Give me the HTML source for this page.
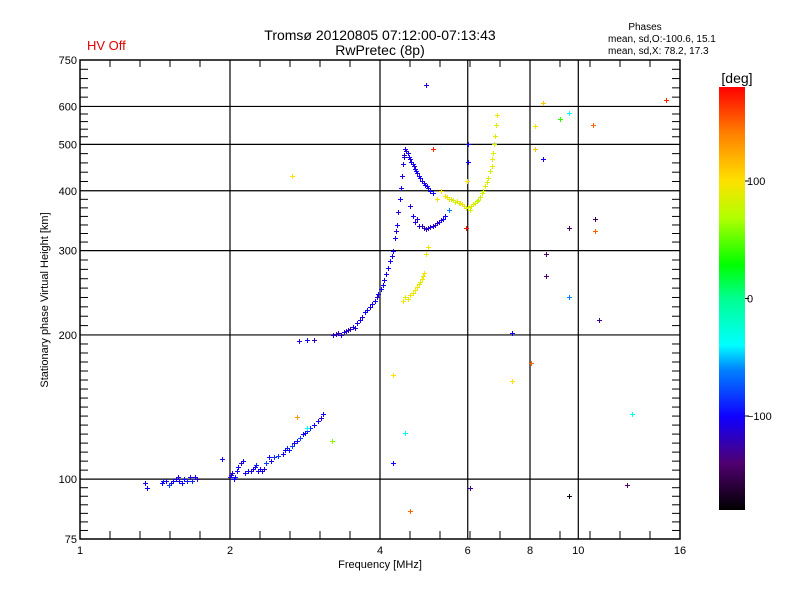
<!DOCTYPE html>
<html><head><meta charset="utf-8"><style>
body{margin:0;background:#fff}
svg{display:block}
text{font-family:"Liberation Sans",sans-serif;fill:#000}
</style></head><body>
<svg id="chart" width="800" height="600" viewBox="0 0 800 600" xmlns="http://www.w3.org/2000/svg">
<defs><linearGradient id="cbg" x1="0" y1="1" x2="0" y2="0">
<stop offset="0" stop-color="#000000"/><stop offset="0.11" stop-color="#500070"/><stop offset="0.22" stop-color="#1000ff"/><stop offset="0.33" stop-color="#0080ff"/><stop offset="0.39" stop-color="#00ffff"/><stop offset="0.5" stop-color="#00ff90"/><stop offset="0.58" stop-color="#00ff00"/><stop offset="0.69" stop-color="#b0ff00"/><stop offset="0.78" stop-color="#ffe000"/><stop offset="0.89" stop-color="#ff8000"/><stop offset="1" stop-color="#ff0000"/></linearGradient></defs>
<text x="87" y="50" font-size="13" style="fill:#e00000">HV Off</text>
<text x="380" y="40" font-size="14" text-anchor="middle">Tromsø 20120805 07:12:00-07:13:43</text>
<text x="380" y="55" font-size="14" text-anchor="middle">RwPretec (8p)</text>
<text x="645" y="30" font-size="10" text-anchor="middle">Phases</text>
<text x="608" y="42" font-size="10">mean, sd,O:-100.6, 15.1</text>
<text x="608" y="54" font-size="10">mean, sd,X:  78.2, 17.3</text>
<text transform="translate(48,300) rotate(-90)" font-size="11" text-anchor="middle">Stationary phase Virtual Height [km]</text>
<text x="380" y="568" font-size="11" text-anchor="middle">Frequency [MHz]</text>
<text x="737" y="83" font-size="14" text-anchor="middle">[deg]</text>
<rect x="719" y="87" width="26" height="423" fill="url(#cbg)"/>
<g id="grid"></g><g id="marks" shape-rendering="crispEdges"></g><g id="axes"></g><g id="cbticks"></g>
</svg>
<script>
const freqs=[1.35,1.36,1.46,1.47,1.52,1.54,1.56,1.58,1.62,1.66,1.68,1.72,1.93,2.0,2.02,2.05,2.08,2.1,2.14,2.2,2.24,2.28,2.32,2.36,2.4,2.45,2.55,2.6,2.66,2.72,2.8,2.86,2.95,3.05,3.08,
1.49,1.51,1.57,1.6,1.64,1.7,2.01,2.04,2.07,2.12,2.17,2.22,2.26,2.3,2.34,2.42,2.5,2.58,2.63,2.69,2.76,2.83,2.9,3.0,
2.75,2.85,2.95,
3.22,3.3,3.38,3.45,3.53,3.6,3.68,3.73,3.82,3.9,3.97,4.05,4.12,4.19,4.24,4.28,4.32,4.35,4.38,4.4,4.42,4.45,4.47,4.5,4.55,4.6,4.65,4.7,4.75,4.82,4.9,4.97,5.05,5.12,
3.26,3.34,3.42,3.49,3.56,3.64,3.77,3.86,3.94,4.01,4.08,4.15,4.22,4.3,4.46,4.52,4.58,4.62,4.68,4.73,4.78,4.86,4.93,5.0,
4.6,4.65,4.7,4.8,4.9,5.0,5.1,5.2,5.3,5.4,5.5,4.75,4.85,4.95,5.05,5.15,5.25,5.35,
5.4,5.5,5.6,5.7,5.8,5.9,6.0,6.1,6.2,6.3,6.4,6.5,6.6,6.7,6.75,6.8,6.85,6.87,5.2,5.3,
5.45,5.55,5.65,5.75,5.85,5.95,6.05,6.15,6.25,6.35,6.45,6.55,6.65,6.72,6.78,
4.45,4.55,4.6,4.7,4.78,4.85,4.9,4.95,5.0,4.5,4.65,4.74,4.82,4.88,
6.0,6.0,5.98,
2.66,2.73,2.86,3.2,4.25,4.25,4.5,4.6,4.95,5.1,5.95,6.05,7.35,7.35,8.05,8.5,8.5,8.6,8.6,9.2,9.6,9.6,9.6,9.6,10.7,10.8,10.8,11.0,12.5,12.8,15,8.2,8.2];
const heights=[98,96,98,99,98,99,100,99,100,101,99,100,110,101,103,101,106,108,103,104,106,104,104,108,111,111,113,116,117,120,124,126,130,134,137,
99,97,101,98,99,101,102,100,104,109,104,105,107,105,105,109,112,115,115,119,122,125,128,132,
194,195,195,
200,202,203,205,208,212,218,223,229,235,244,254,268,285,300,318,340,362,385,405,430,455,475,490,480,465,455,445,435,425,415,410,400,395,
201,200,204,206,207,215,225,232,240,250,260,276,292,330,470,485,470,460,450,440,430,420,412,405,
372,355,345,338,335,334,338,342,348,355,365,350,337,333,336,340,345,350,
390,385,383,380,378,372,370,372,378,382,395,410,425,450,480,520,550,575,385,400,
388,384,379,377,375,368,365,375,380,388,400,418,440,465,500,
235,238,242,248,255,262,270,295,305,240,245,252,258,265,
500,460,420,
430,135,128,120,165,108,125,86,665,490,335,96,202,160,175,610,465,295,265,565,580,335,240,92,550,350,330,215,97,137,620,545,490];
const phases=[-105,-100,-100,-95,-110,-100,-105,-100,-95,-110,-90,-120,-100,-105,-110,-95,-100,-110,-105,-110,-100,-105,-110,-80,-95,-85,-100,-90,-80,-95,-100,-90,-100,-110,-100,
-100,-80,-110,-100,-90,-105,-110,-100,-95,-105,-100,-110,-90,-100,-110,-105,-85,-100,-95,-110,-80,-100,-90,-105,
-110,-100,-120,
-115,-120,-110,-115,-105,-105,-110,-100,-105,-100,-105,-100,-105,-100,-100,-105,-100,-110,-100,-105,-110,-110,-110,-110,-105,-110,-100,-105,-110,-100,-110,-105,-100,-100,
-120,-115,-110,-120,-110,-105,-100,-105,-110,-100,-105,-100,-105,-110,-115,-110,-100,-105,-110,-100,-105,-110,-100,-105,
-110,-100,-110,-115,-120,-115,-110,-115,-110,-100,-60,-110,-120,-115,-110,-115,-110,-100,
100,90,85,95,90,85,90,85,90,80,85,90,85,90,85,90,90,95,95,100,
95,85,80,90,95,85,80,85,75,85,80,85,80,90,85,
95,90,100,95,90,95,100,90,95,85,90,95,85,90,
-100,-100,100,
100,130,-40,60,100,-100,-40,150,-110,170,175,-130,-100,100,150,110,-100,-140,-140,40,-40,-150,-60,-170,150,-150,150,-130,-140,-40,170,100,110];
const xTicks=[1,2,4,6,8,10,16];
const yTicks=[75,100,200,300,400,500,600,750];
const cbTicks=[100,0,-100];

const NS="http://www.w3.org/2000/svg";
const L=80,R=680,T=60,B=539;
const X=f=>L+150*Math.log2(f);
const Y=h=>B-479*Math.log10(h/75);
const CB=p=>298.5-(p/180)*211.5;
function mk(tag,at,parent){const e=document.createElementNS(NS,tag);for(const k in at)e.setAttribute(k,at[k]);parent.appendChild(e);return e;}
const stops=[[-180,0,0,0],[-140,80,0,112],[-100,16,0,255],[-60,0,128,255],[-40,0,255,255],[0,0,255,144],[30,0,255,0],[70,176,255,0],[100,255,224,0],[140,255,128,0],[180,255,0,0]];
function col(p){for(let i=1;i<stops.length;i++){if(p<=stops[i][0]){const a=stops[i-1],b=stops[i],t=(p-a[0])/(b[0]-a[0]);return `rgb(${Math.round(a[1]+t*(b[1]-a[1]))},${Math.round(a[2]+t*(b[2]-a[2]))},${Math.round(a[3]+t*(b[3]-a[3]))})`;}}return "rgb(255,0,0)";}
const grid=document.getElementById('grid'),axes=document.getElementById('axes'),marks=document.getElementById('marks'),cbt=document.getElementById('cbticks');
xTicks.forEach(v=>{if(v>1&&v<16){const l=mk('line',{x1:X(v),x2:X(v),y1:T,y2:B,stroke:'#000','stroke-width':1.2},grid);

}});
yTicks.forEach(v=>{if(v>75&&v<750){const l=mk('line',{x1:L,x2:R,y1:Y(v),y2:Y(v),stroke:'#000','stroke-width':1.2},grid);

}});
for(let i=0;i<freqs.length;i++){const x=Math.round(X(freqs[i])),y=Math.round(Y(heights[i]));
const p=mk('path',{d:`M${x-2} ${y}h5v1h-5zM${x} ${y-2}h1v5h-1z`,fill:col(phases[i])},marks);

}
const fr=mk('rect',{x:L,y:T,width:R-L,height:B-T,fill:'none',stroke:'#000','stroke-width':1.5},axes);


for(let k=1;k<20;k++){const x=L+30*k;mk('line',{x1:x,x2:x,y1:B,y2:B-8,stroke:'#000'},axes);mk('line',{x1:x,x2:x,y1:T,y2:T+7,stroke:'#000'},axes);}
for(let i=0;i<yTicks.length-1;i++){const a=Y(yTicks[i]),b=Y(yTicks[i+1]),n=Math.max(5,Math.round((a-b)/9));for(let k=1;k<n;k++){const y=a+(b-a)*k/n;mk('line',{x1:L,x2:L+8,y1:y,y2:y,stroke:'#000'},axes);mk('line',{x1:R,x2:R-8,y1:y,y2:y,stroke:'#000'},axes);}}
xTicks.forEach(v=>{const t=mk('text',{x:X(v),y:554,'font-size':11,'text-anchor':'middle'},axes);t.textContent=v;

});
yTicks.forEach(v=>{const t=mk('text',{x:L-3,y:Y(v)+4,'font-size':11,'text-anchor':'end'},axes);t.textContent=v;

});
cbTicks.forEach(v=>{const y=CB(v);mk('line',{x1:745,x2:749,y1:y,y2:y,stroke:'#000'},cbt);const t=mk('text',{x:747,y:y+4,'font-size':11},cbt);t.textContent=(v<0?'\u2212'+(-v):v);

});
</script>
</body></html>
